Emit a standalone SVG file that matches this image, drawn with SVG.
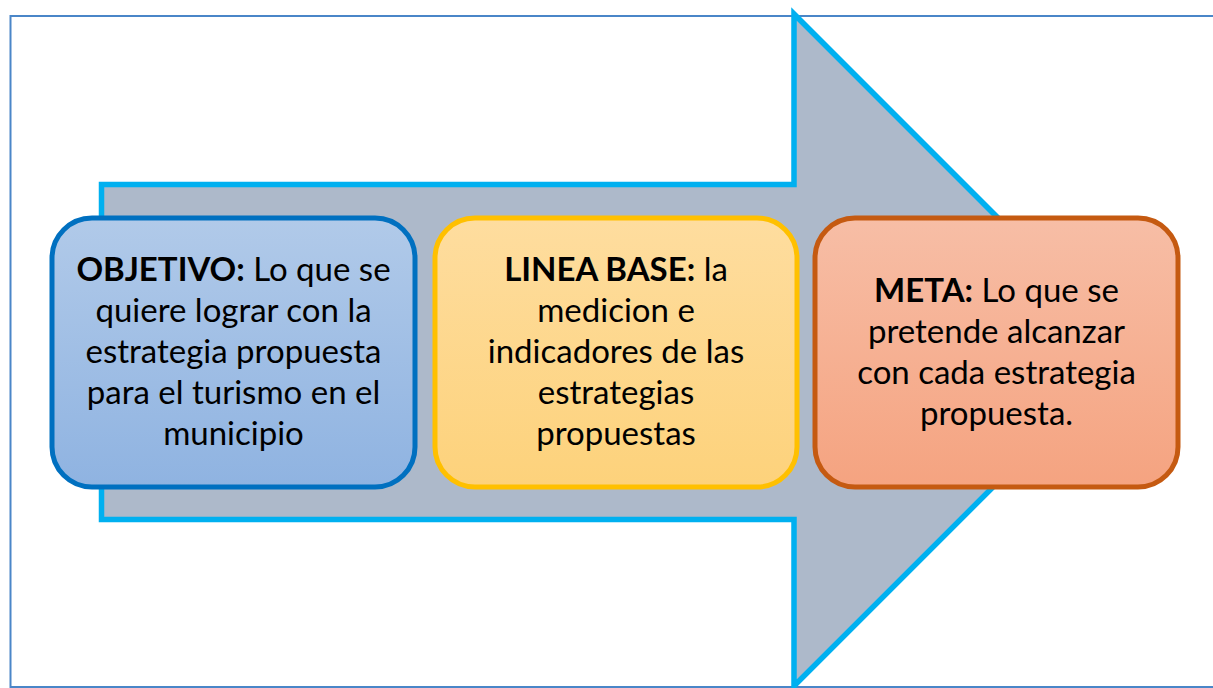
<svg xmlns="http://www.w3.org/2000/svg" width="1213" height="688" viewBox="0 0 1213 688">
<defs>
<linearGradient id="gBlue" x1="0" y1="0" x2="0" y2="1"><stop offset="0" stop-color="#b1cae9"/><stop offset="1" stop-color="#8fb3e1"/></linearGradient>
<linearGradient id="gYel" x1="0" y1="0" x2="0" y2="1"><stop offset="0" stop-color="#fedd9f"/><stop offset="1" stop-color="#fdd27b"/></linearGradient>
<linearGradient id="gOr" x1="0" y1="0" x2="0" y2="1"><stop offset="0" stop-color="#f7bea6"/><stop offset="1" stop-color="#f5a380"/></linearGradient>
</defs>
<style>
.box{stroke-width:5}
.t{font-family:Lato,"Liberation Sans",sans-serif;font-size:33px;fill:#000;text-anchor:middle}
.b{font-weight:bold}
</style>
<rect x="10.5" y="16" width="1220" height="671" fill="#fff" stroke="#4a86c8" stroke-width="2"/>
<g id="arrow">
<path d="M101.5,184.5 H794 V14 L1130,350 L794,686 V519.5 H101.5 Z" fill="#adb9ca" stroke="#00b0f0" stroke-width="5.5" stroke-linejoin="miter"/>
</g>
<g id="objetivo">
<rect class="box" x="52" y="218" width="363" height="269" rx="40" fill="url(#gBlue)" stroke="#0070c0"/>
<text class="t" x="233.5" y="281"><tspan class="b">OBJETIVO:</tspan> Lo que se</text>
<text class="t" x="233.5" y="322">quiere lograr con la</text>
<text class="t" x="233.5" y="363">estrategia propuesta</text>
<text class="t" x="233.5" y="404">para el turismo en el</text>
<text class="t" x="233.5" y="445">municipio</text>
</g>
<g id="linea-base">
<rect class="box" x="435" y="218" width="362" height="269" rx="40" fill="url(#gYel)" stroke="#ffc000"/>
<text class="t" x="616" y="281"><tspan class="b">LINEA BASE:</tspan> la</text>
<text class="t" x="616" y="322">medicion e</text>
<text class="t" x="616" y="363">indicadores de las</text>
<text class="t" x="616" y="404">estrategias</text>
<text class="t" x="616" y="445">propuestas</text>
</g>
<g id="meta">
<rect class="box" x="815" y="218" width="363" height="269" rx="40" fill="url(#gOr)" stroke="#c55a11"/>
<text class="t" x="996.5" y="302"><tspan class="b">META:</tspan> Lo que se</text>
<text class="t" x="996.5" y="343">pretende alcanzar</text>
<text class="t" x="996.5" y="384">con cada estrategia</text>
<text class="t" x="996.5" y="425">propuesta.</text>
</g>
<g id="connectors"/>
</svg>
